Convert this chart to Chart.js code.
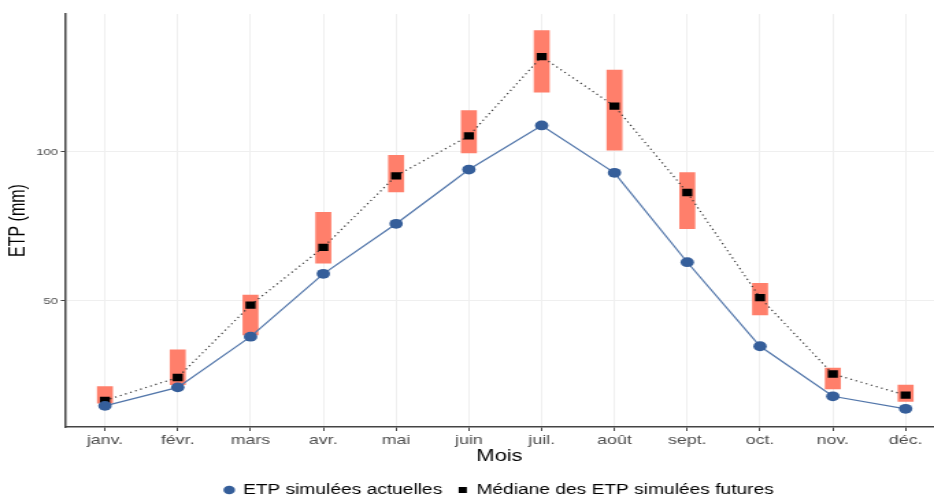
<!DOCTYPE html>
<html>
<head>
<meta charset="utf-8">
<script src="https://cdn.jsdelivr.net/npm/chart.js@4"></script>
<style>
  html, body { margin: 0; background: #fff; }
  #wrap { width: 934px; height: 497px; overflow: hidden; }
  /* the reference is stretched sideways (round markers come out oval), so the
     canvas is drawn narrower and widened with a transform */
  #etpChart { display: block; transform: scaleX(1.3695); transform-origin: 0 0; }
</style>
</head>
<body>
<div id="wrap"><canvas id="etpChart" width="682" height="497"></canvas></div>
<script>
const mois = ["janv.", "févr.", "mars", "avr.", "mai", "juin", "juil.", "août", "sept.", "oct.", "nov.", "déc."];
const etpActuelles = [14.8, 21.0, 38.0, 59.1, 75.9, 94.1, 108.9, 93.0, 63.0, 34.8, 18.0, 13.8];
const medianeFutures = [16.6, 24.3, 48.6, 68.0, 92.0, 105.4, 132.0, 115.4, 86.4, 51.1, 25.5, 18.4];
const futuresMin = [15.7, 21.9, 38.6, 62.7, 86.6, 99.7, 120.1, 100.6, 74.3, 45.3, 20.5, 16.3];
const futuresMax = [21.3, 33.6, 52.0, 79.7, 98.9, 113.9, 140.7, 127.5, 93.1, 55.9, 27.5, 21.8];
const yTicks = [50, 100];

const police = 'Liberation Sans';
const toPts = arr => arr.map((v, i) => ({ x: i, y: v }));

new Chart(document.getElementById('etpChart'), {
  type: 'line',
  data: {
    datasets: [
      {
        label: 'ETP simulées actuelles',
        data: toPts(etpActuelles),
        borderColor: '#5276AA',
        borderWidth: 1.2,
        pointStyle: 'circle',
        pointRadius: 4.9,
        pointBackgroundColor: '#355E9A',
        pointBorderColor: '#355E9A',
        pointBorderWidth: 0,
        tension: 0,
        order: 0
      },
      {
        label: 'Médiane des ETP simulées futures',
        data: toPts(medianeFutures),
        borderColor: '#333',
        borderWidth: 1.2,
        borderDash: [1.2, 2.8],
        pointStyle: 'rect',
        pointRadius: 5.2,
        pointBackgroundColor: '#000',
        pointBorderColor: '#000',
        pointBorderWidth: 0,
        tension: 0,
        order: 1
      },
      {
        type: 'bar',
        label: 'intervalle',
        data: futuresMin.map((lo, i) => ({ x: i, y: [lo, futuresMax[i]] })),
        backgroundColor: '#FF7F6B',
        borderWidth: 0,
        barThickness: 11,
        order: 2
      }
    ]
  },
  options: {
    responsive: false,
    devicePixelRatio: 1,
    animation: false,
    layout: { autoPadding: false, padding: { left: 0, right: 0, top: 14, bottom: -10 } },
    plugins: {
      tooltip: { enabled: false },
      legend: {
        position: 'bottom',
        fullSize: false,
        labels: {
          color: '#000',
          font: { family: police, size: 14 },
          usePointStyle: true,
          boxWidth: 6,
          boxHeight: 6,
          padding: 12,
          filter: item => item.datasetIndex !== 2
        }
      }
    },
    scales: {
      x: {
        type: 'linear',
        min: -0.55,
        max: 11.39,
        offset: false,
        afterFit: s => { s.height = 44; },
        grid: { color: '#EFEFEF', offset: false, tickLength: 4, tickColor: '#444' },
        border: { color: '#444', width: 1.5 },
        ticks: {
          stepSize: 1,
          includeBounds: false,
          autoSkip: false,
          maxRotation: 0,
          color: '#4D4D4D',
          font: { family: police, size: 13 },
          padding: 2,
          callback: v => mois[v]
        },
        title: {
          display: true,
          text: 'Mois',
          color: '#000',
          font: { family: police, size: 16 },
          padding: { top: 0, bottom: 5 }
        }
      },
      y: {
        min: 7.7,
        max: 146.3,
        afterBuildTicks: s => { s.ticks = yTicks.map(v => ({ value: v })); },
        afterFit: s => { s.width = 47.4; },
        grid: { color: '#EFEFEF', tickLength: 3, tickColor: '#444' },
        border: { color: '#444', width: 1.5 },
        ticks: {
          color: '#4D4D4D',
          font: { family: police, size: 9.5 },
          padding: 2
        },
        title: {
          display: true,
          text: 'ETP (mm)',
          color: '#000',
          font: { family: police, size: 16 },
          padding: { top: 4, bottom: 0 }
        }
      }
    }
  }
});
</script>
</body>
</html>
